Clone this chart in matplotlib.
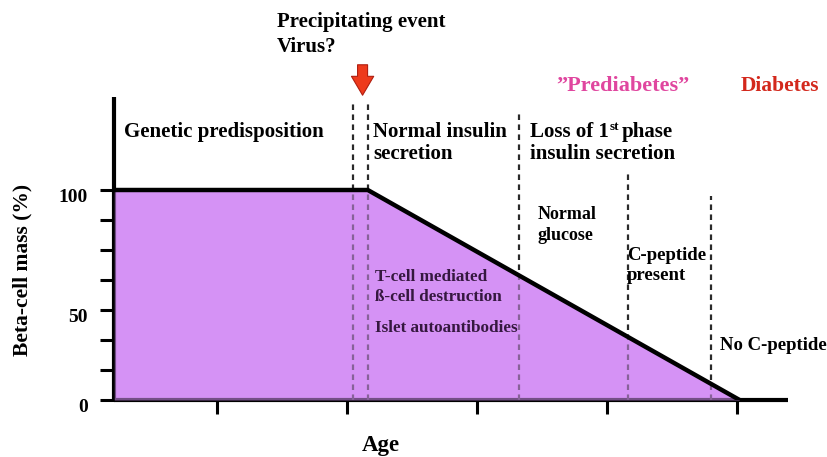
import matplotlib
matplotlib.use("Agg")
import matplotlib.pyplot as plt
import matplotlib.transforms as mtransforms
import numpy as np

# ---------------- data ----------------
curve_age = [0.21, 2.16, 5.02]          # age (schematic units)
curve_mass = [100, 100, 0]              # beta-cell mass (%)
stage_lines_age = [2.05, 2.16, 3.32, 4.16, 4.80]
stage_lines_top = [141, 141, 136, 109, 97]
x_ticks = [1, 2, 3, 4, 5]
y_ticks = [100 * k / 7 for k in range(8)]
y_tick_labels = ["0", "", "", "50", "", "", "", "100"]
event_age = 2.12

W, H = 828, 457
SERIF = ['Liberation Serif', 'DejaVu Serif']
fig = plt.figure(figsize=(W / 100, H / 100), dpi=100)
fig.patch.set_facecolor('white')

ax = fig.add_axes([114 / W, (H - 400) / H, (788 - 114) / W, (400 - 97) / H])
ax.set_xlim(0.208, (788 - 87) / 130)
ax.set_ylim(0, (400 - 97) / 210 * 100)
ax.patch.set_alpha(0)

for s in ['top', 'right']:
    ax.spines[s].set_visible(False)
for s in ['left', 'bottom']:
    ax.spines[s].set_linewidth(3.0)
    ax.spines[s].set_color('black')
    ax.spines[s].set_capstyle('butt')

FILL = '#D592F5'
ax.fill_between(curve_age, curve_mass, 0, color=FILL, lw=0, zorder=1)

for a, top in zip(stage_lines_age, stage_lines_top):
    ax.plot([a, a], [0, top], color='#2a2a2a', lw=1.6, ls=(0, (2.5, 2.0)), zorder=3)
# purple tint on the dashes inside the fill
ax.fill_between(curve_age, curve_mass, 0, color=FILL, lw=0, alpha=0.55, zorder=3.5)
ax.plot(curve_age, curve_mass, color='black', lw=3.2, solid_joinstyle='miter', zorder=4)

ax.set_xticks(x_ticks)
ax.set_xticklabels([])
ax.tick_params(axis='x', direction='out', length=10, width=2.2, color='black')
ax.set_yticks(y_ticks)
ax.set_yticklabels(y_tick_labels, fontfamily=SERIF, fontweight='bold', fontsize=14)
ax.tick_params(axis='y', direction='out', length=10, width=2.2, color='black', pad=9)
offset = mtransforms.ScaledTranslation(0, -6 / 100, fig.dpi_scale_trans)
for lab in ax.get_yticklabels():
    lab.set_transform(lab.get_transform() + offset)

ax.annotate('', xy=(event_age, (400 - 98) / 210 * 100), xytext=(event_age, (400 - 62) / 210 * 100),
            xycoords='data', textcoords='data', annotation_clip=False,
            arrowprops=dict(arrowstyle='simple,head_length=0.85,head_width=1.0,tail_width=0.45',
                            fc='#EE3A1C', ec='#B01E10', lw=0.8, mutation_scale=16))

renderer = fig.canvas.get_renderer()


def T(px, py, s, size=13.5, color='black', ha='left', va='center', **kw):
    t = fig.text(px / W, 1 - py / H, s, fontsize=size, color=color, ha=ha, va=va,
                 fontfamily=SERIF, fontweight='bold', **kw)
    return t


def right_px(t):
    bb = t.get_window_extent(renderer=renderer)
    return bb.x1


T(277, 22, 'Precipitating event', size=15)
T(277, 47, 'Virus?', size=15)
T(556, 86, '\u201dPrediabetes\u201d', size=16)  # placeholder replaced below
fig.texts[-1].set_color('#E0469F')
T(741, 86, 'Diabetes', size=15.5, color='#D3281C')
T(124, 132, 'Genetic predisposition', size=15)
T(373, 132, 'Normal insulin', size=15)
T(373, 154, 'secretion', size=15)
t1 = T(530, 132, 'Loss of 1', size=15)
x1 = right_px(t1)
t2 = T(x1 + 0.5, 127, 'st', size=9.5)
x2 = right_px(t2)
T(x2 + 3, 132, 'phase', size=15)
T(530, 154, 'insulin secretion', size=15)
T(538, 214, 'Normal', size=13)
T(538, 235, 'glucose', size=13)
T(627, 255, 'C-peptide', size=13.5)
T(627, 275, 'present', size=13.5)
T(720, 346, 'No C-peptide', size=13.5)
T(375, 277, 'T-cell mediated', size=12.3, color='#35183f')
T(375, 297, '\u00df-cell destruction', size=12.3, color='#35183f')
T(375, 328, 'Islet autoantibodies', size=12.3, color='#35183f')
T(22, 270, 'Beta-cell mass (%)', size=15.5, ha='center', rotation=90)
T(381, 446, 'Age', size=16.5, ha='center')

fig.savefig('out.png', dpi=100, facecolor='white')
